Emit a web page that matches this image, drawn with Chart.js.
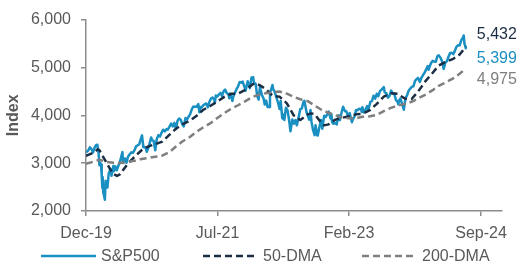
<!DOCTYPE html>
<html>
<head>
<meta charset="utf-8">
<script src="https://cdn.jsdelivr.net/npm/chart.js@4.4.1/dist/chart.umd.min.js"></script>
<style>
  html, body { margin: 0; padding: 0; background: #fff; }
  #wrap { position: relative; width: 525px; height: 270px; }
  #legend { position: absolute; left: 0; top: 246px; width: 525px; height: 20px; font: 16px "Liberation Sans", Arial, sans-serif; color: #595959; }
  .item { position: absolute; top: 0; height: 20px; display: flex; align-items: center; white-space: nowrap; }
  .item svg { margin-right: 5px; }
</style>
</head>
<body>
<div id="wrap">
  <canvas id="chart" width="525" height="270"></canvas>
  <div id="legend"></div>
</div>
<script>
// S&P 500 closes (Dec-2019 to Jul-2024)
const spDates = [
  "2019-12-31", "2020-01-06", "2020-01-10", "2020-01-17", "2020-01-24", "2020-01-31", "2020-02-07", "2020-02-14",
  "2020-02-19", "2020-02-24", "2020-02-28", "2020-03-03", "2020-03-06", "2020-03-09", "2020-03-12", "2020-03-13",
  "2020-03-16", "2020-03-20", "2020-03-23", "2020-03-26", "2020-03-31", "2020-04-03", "2020-04-09", "2020-04-17",
  "2020-04-21", "2020-04-29", "2020-05-01", "2020-05-08", "2020-05-14", "2020-05-22", "2020-05-29", "2020-06-08",
  "2020-06-11", "2020-06-19", "2020-06-26", "2020-07-02", "2020-07-10", "2020-07-17", "2020-07-24", "2020-07-31",
  "2020-08-07", "2020-08-14", "2020-08-21", "2020-08-28", "2020-09-02", "2020-09-08", "2020-09-11", "2020-09-18",
  "2020-09-23", "2020-10-02", "2020-10-12", "2020-10-16", "2020-10-23", "2020-10-30", "2020-11-06", "2020-11-13",
  "2020-11-20", "2020-11-27", "2020-12-04", "2020-12-11", "2020-12-18", "2020-12-24", "2020-12-31",
  "2021-01-08", "2021-01-15", "2021-01-22", "2021-01-29", "2021-02-05", "2021-02-12", "2021-02-19", "2021-02-26",
  "2021-03-04", "2021-03-12", "2021-03-19", "2021-03-26", "2021-04-01", "2021-04-09", "2021-04-16", "2021-04-23",
  "2021-04-30", "2021-05-07", "2021-05-12", "2021-05-14", "2021-05-21", "2021-05-28", "2021-06-04", "2021-06-11",
  "2021-06-18", "2021-06-25", "2021-07-02", "2021-07-09", "2021-07-16", "2021-07-19", "2021-07-23", "2021-07-30",
  "2021-08-06", "2021-08-13", "2021-08-19", "2021-08-27", "2021-09-02", "2021-09-10", "2021-09-17", "2021-09-20",
  "2021-09-24", "2021-10-01", "2021-10-04", "2021-10-08", "2021-10-15", "2021-10-22", "2021-10-29", "2021-11-05",
  "2021-11-12", "2021-11-18", "2021-11-26", "2021-12-01", "2021-12-10", "2021-12-17", "2021-12-20", "2021-12-27",
  "2021-12-31",
  "2022-01-03", "2022-01-07", "2022-01-14", "2022-01-21", "2022-01-27", "2022-02-02", "2022-02-11", "2022-02-18",
  "2022-02-23", "2022-03-01", "2022-03-08", "2022-03-14", "2022-03-18", "2022-03-29", "2022-04-01", "2022-04-08",
  "2022-04-14", "2022-04-22", "2022-04-29", "2022-05-04", "2022-05-11", "2022-05-13", "2022-05-20", "2022-05-27",
  "2022-06-03", "2022-06-10", "2022-06-16", "2022-06-24", "2022-07-01", "2022-07-08", "2022-07-14", "2022-07-22",
  "2022-07-29", "2022-08-05", "2022-08-12", "2022-08-16", "2022-08-26", "2022-09-06", "2022-09-12", "2022-09-16",
  "2022-09-23", "2022-09-30", "2022-10-04", "2022-10-12", "2022-10-14", "2022-10-21", "2022-10-28", "2022-11-03",
  "2022-11-11", "2022-11-18", "2022-11-25", "2022-12-01", "2022-12-09", "2022-12-13", "2022-12-16", "2022-12-22",
  "2022-12-30",
  "2023-01-05", "2023-01-13", "2023-01-19", "2023-01-27", "2023-02-02", "2023-02-10", "2023-02-17", "2023-02-24",
  "2023-03-03", "2023-03-13", "2023-03-17", "2023-03-24", "2023-03-31", "2023-04-06", "2023-04-14", "2023-04-21",
  "2023-04-25", "2023-04-28", "2023-05-04", "2023-05-12", "2023-05-19", "2023-05-24", "2023-06-02", "2023-06-09",
  "2023-06-16", "2023-06-23", "2023-06-30", "2023-07-07", "2023-07-14", "2023-07-21", "2023-07-31", "2023-08-04",
  "2023-08-11", "2023-08-18", "2023-08-25", "2023-09-01", "2023-09-08", "2023-09-15", "2023-09-22", "2023-09-29",
  "2023-10-03", "2023-10-06", "2023-10-12", "2023-10-20", "2023-10-27", "2023-11-03", "2023-11-10", "2023-11-17",
  "2023-11-24", "2023-12-01", "2023-12-08", "2023-12-15", "2023-12-22", "2023-12-28",
  "2024-01-05", "2024-01-12", "2024-01-19", "2024-01-26", "2024-02-02", "2024-02-09", "2024-02-13", "2024-02-16",
  "2024-02-23", "2024-03-01", "2024-03-08", "2024-03-15", "2024-03-22", "2024-03-28", "2024-04-05", "2024-04-12",
  "2024-04-19", "2024-04-26", "2024-05-03", "2024-05-10", "2024-05-17", "2024-05-24", "2024-05-31", "2024-06-07",
  "2024-06-14", "2024-06-21", "2024-06-28", "2024-07-05", "2024-07-12", "2024-07-16", "2024-07-19", "2024-07-24",
  "2024-07-25"
]
const spValues = [
  3231, 3246, 3265, 3330, 3295, 3226, 3328, 3380,
  3386, 3226, 2954, 3003, 2972, 2747, 2481, 2711,
  2386, 2305, 2237, 2630, 2585, 2489, 2790, 2875,
  2737, 2940, 2831, 2930, 2852, 2955, 3044, 3232,
  3002, 3098, 3009, 3130, 3185, 3225, 3216, 3271,
  3351, 3373, 3397, 3508, 3580, 3332, 3341, 3319,
  3237, 3348, 3535, 3484, 3465, 3270, 3509, 3585,
  3558, 3638, 3699, 3663, 3709, 3703, 3756,
  3825, 3768, 3841, 3714, 3887, 3934, 3907, 3811,
  3768, 3943, 3913, 3975, 4020, 4129, 4185, 4180,
  4181, 4233, 4063, 4174, 4156, 4204, 4230, 4247,
  4166, 4281, 4352, 4370, 4327, 4258, 4412, 4395,
  4437, 4468, 4406, 4509, 4537, 4459, 4433, 4358,
  4455, 4357, 4300, 4391, 4471, 4545, 4605, 4697,
  4683, 4705, 4595, 4513, 4712, 4621, 4568, 4791,
  4766,
  4797, 4677, 4663, 4398, 4327, 4590, 4419, 4349,
  4226, 4306, 4171, 4173, 4463, 4632, 4546, 4488,
  4393, 4272, 4132, 4300, 3935, 4024, 3901, 4158,
  4109, 3901, 3667, 3912, 3825, 3899, 3790, 3962,
  4130, 4145, 4280, 4305, 4058, 3909, 4110, 3873,
  3693, 3586, 3791, 3577, 3583, 3752, 3901, 3720,
  3993, 3965, 4026, 4077, 3934, 4020, 3852, 3822,
  3840,
  3808, 3999, 3899, 4071, 4179, 4090, 4079, 3970,
  4046, 3856, 3917, 3971, 4109, 4105, 4138, 4133,
  4071, 4169, 4061, 4124, 4192, 4116, 4282, 4299,
  4410, 4348, 4450, 4399, 4505, 4536, 4589, 4478,
  4464, 4370, 4406, 4516, 4457, 4450, 4320, 4288,
  4229, 4309, 4349, 4224, 4117, 4358, 4415, 4514,
  4559, 4595, 4604, 4719, 4755, 4783,
  4697, 4784, 4840, 4891, 4959, 5027, 4953, 5006,
  5089, 5137, 5124, 5117, 5234, 5254, 5204, 5123,
  4967, 5100, 5128, 5223, 5303, 5305, 5278, 5347,
  5432, 5465, 5460, 5567, 5615, 5667, 5505, 5427,
  5399
]

// 50-day moving average
const dma50Dates = [
  "2019-12-31", "2020-01-31", "2020-02-21", "2020-02-28", "2020-03-31", "2020-04-15", "2020-04-30", "2020-05-15",
  "2020-05-29", "2020-06-30", "2020-07-31", "2020-08-31", "2020-09-30", "2020-10-30", "2020-11-30", "2020-12-31",
  "2021-01-29", "2021-02-26", "2021-03-31", "2021-04-30", "2021-05-28", "2021-06-30", "2021-07-30", "2021-08-31",
  "2021-09-30", "2021-10-29", "2021-11-30", "2021-12-31", "2022-01-14", "2022-01-31", "2022-02-28", "2022-03-31",
  "2022-04-29", "2022-05-31", "2022-06-30", "2022-07-29", "2022-08-31", "2022-09-15", "2022-09-30", "2022-10-31",
  "2022-11-10", "2022-11-30", "2022-12-30", "2023-01-31", "2023-02-28", "2023-03-31", "2023-04-28", "2023-05-31",
  "2023-06-30", "2023-07-31", "2023-08-31", "2023-09-29", "2023-10-31", "2023-11-30", "2023-12-29", "2024-01-31",
  "2024-02-29", "2024-03-28", "2024-04-30", "2024-05-31", "2024-06-28", "2024-07-25"
]
const dma50Values = [
  3150, 3215, 3290, 3270, 3000, 2875, 2770, 2732,
  2770, 2980, 3130, 3270, 3350, 3395, 3450, 3590,
  3720, 3810, 3890, 3990, 4110, 4200, 4290, 4390,
  4450, 4455, 4530, 4645, 4671, 4630, 4550, 4400,
  4390, 4250, 4000, 3900, 4020, 4040, 4030, 3830,
  3789, 3810, 3910, 3950, 3980, 4020, 4030, 4110,
  4240, 4390, 4460, 4450, 4350, 4340, 4500, 4720,
  4880, 5040, 5120, 5180, 5270, 5432
]

// 200-day moving average
const dma200Dates = [
  "2019-12-31", "2020-01-31", "2020-02-28", "2020-03-31", "2020-04-30", "2020-05-29", "2020-06-30", "2020-07-31",
  "2020-08-31", "2020-09-30", "2020-10-30", "2020-11-30", "2020-12-31", "2021-01-29", "2021-02-26", "2021-03-31",
  "2021-04-30", "2021-05-28", "2021-06-30", "2021-07-30", "2021-08-31", "2021-09-30", "2021-10-29", "2021-11-30",
  "2021-12-31", "2022-01-31", "2022-02-28", "2022-03-31", "2022-04-29", "2022-05-31", "2022-06-30", "2022-07-29",
  "2022-08-31", "2022-09-30", "2022-10-31", "2022-11-30", "2022-12-30", "2023-01-31", "2023-02-28", "2023-03-31",
  "2023-04-28", "2023-05-31", "2023-06-30", "2023-07-31", "2023-08-31", "2023-09-29", "2023-10-31", "2023-11-30",
  "2023-12-29", "2024-01-31", "2024-02-29", "2024-03-28", "2024-04-30", "2024-05-31", "2024-06-28", "2024-07-25"
]
const dma200Values = [
  2985, 3030, 3070, 3026, 3008, 3003, 3023, 3048,
  3086, 3109, 3132, 3157, 3229, 3347, 3452, 3546,
  3658, 3744, 3835, 3944, 4050, 4140, 4210, 4295,
  4383, 4438, 4463, 4482, 4497, 4452, 4387, 4335,
  4295, 4207, 4110, 4054, 4002, 3949, 3940, 3938,
  3969, 3979, 4008, 4087, 4156, 4200, 4239, 4282,
  4354, 4435, 4520, 4616, 4693, 4772, 4869, 4975
]

const seriesNames = ["S&P500", "50-DMA", "200-DMA"]
const tickDates = ["2019-12-31", "2021-07-31", "2023-02-28", "2024-09-30"]
const tickLabels = ["Dec-19", "Jul-21", "Feb-23", "Sep-24"]
const axisEnd = "2024-12-31"

const colors = ["#1a8fc2", "#1c2e44", "#7f7f7f"]
const dashes = [[], [7, 4], [7, 4]]
const legendLeft = [41, 203, 362]
const fontFamily = "'Liberation Sans', Arial, sans-serif"
const textGray = "#595959"
const axisGray = "#8c8c8c"

const origin = Date.parse(tickDates[0])
const toDays = (d) => (Date.parse(d) - origin) / 86400000
const points = (dates, values) => dates.map((d, i) => ({ x: toDays(d), y: values[i] }))

// last value written next to each line
const endLabels = {
    id: "endLabels",
    afterDatasetsDraw(chart, args, opts) {
        const ctx = chart.ctx
        ctx.save()
        ctx.font = "16px " + fontFamily
        ctx.textBaseline = "middle"
        ctx.textAlign = "left"
        chart.data.datasets.forEach((ds, i) => {
            const meta = chart.getDatasetMeta(i)
            const last = meta.data[meta.data.length - 1]
            const value = ds.data[ds.data.length - 1].y
            ctx.fillStyle = ds.borderColor
            ctx.fillText(value.toLocaleString("en-US"), last.x + opts.gap, last.y + opts.shifts[i])
        })
        ctx.restore()
    }
}

const allSeries = [
    points(spDates, spValues),
    points(dma50Dates, dma50Values),
    points(dma200Dates, dma200Values)
]

const datasets = allSeries.map((data, i) => ({
    label: seriesNames[i],
    data: data,
    borderColor: colors[i],
    backgroundColor: colors[i],
    borderWidth: 2.5,
    borderDash: dashes[i],
    pointRadius: 0,
    tension: 0,
    borderJoinStyle: "round",
    order: 3 - i
}))

new Chart(document.querySelector("#chart"), {
    type: "line",
    data: { datasets: datasets },
    options: {
        responsive: false,
        animation: false,
        events: [],
        layout: { padding: { left: 0, right: 23, top: 16, bottom: 0 } },
        plugins: {
            legend: { display: false },
            tooltip: { enabled: false },
            endLabels: { gap: 11, shifts: [10, -12, 11] }
        },
        scales: {
            x: {
                type: "linear",
                min: 0,
                max: toDays(axisEnd),
                afterBuildTicks: (scale) => {
                    scale.ticks = tickDates.map(d => ({ value: toDays(d) }))
                },
                afterFit: (scale) => { scale.height = 59 },
                ticks: {
                    callback: (value, index) => tickLabels[index],
                    color: textGray,
                    font: { size: 16, family: fontFamily },
                    padding: 8,
                    maxRotation: 0,
                    autoSkip: false
                },
                grid: { drawOnChartArea: false, drawTicks: true, tickLength: 5, color: axisGray, lineWidth: 1.5 },
                border: { color: axisGray, width: 1.5 }
            },
            y: {
                min: 2000,
                max: 6000,
                afterFit: (scale) => { scale.width = 86 },
                ticks: {
                    stepSize: 1000,
                    callback: (value) => value.toLocaleString("en-US"),
                    color: textGray,
                    font: { size: 16, family: fontFamily },
                    padding: 10
                },
                title: {
                    display: true,
                    text: "Index",
                    color: textGray,
                    font: { size: 16, weight: "bold", family: fontFamily },
                    padding: { top: 4, bottom: 0 }
                },
                grid: { drawOnChartArea: false, drawTicks: true, tickLength: 5, color: axisGray, lineWidth: 1.5 },
                border: { color: axisGray, width: 1.5 }
            }
        }
    },
    plugins: [endLabels]
})

// legend drawn as html under the chart
const legend = document.querySelector("#legend")
seriesNames.forEach((name, i) => {
    const item = document.createElement("div")
    item.classList.add("item")
    item.style.left = legendLeft[i] + "px"
    const dash = dashes[i].length ? `stroke-dasharray="${dashes[i].join(" ")}"` : ""
    item.innerHTML = `<svg width="55" height="4"><line x1="0" y1="2" x2="55" y2="2" stroke="${colors[i]}" stroke-width="2.5" ${dash}/></svg>`
    const span = document.createElement("span")
    span.textContent = name
    item.appendChild(span)
    legend.appendChild(item)
})
</script>
</body>
</html>
